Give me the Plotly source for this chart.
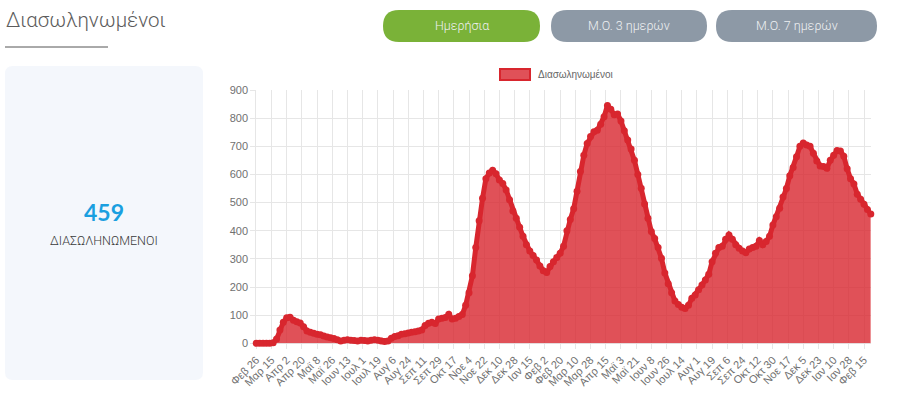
import pandas as pd
import plotly.graph_objects as go

# ---------------- data ----------------
start_date = "2020-02-26"
step_days = 4
intubated = [
    0, 0, 0, 0, 0, 2, 15, 47, 75, 91, 93, 82, 77, 72, 59, 44, 39, 36, 32, 30,
    26, 22, 20, 17, 13, 8, 11, 13, 11, 10, 8, 11, 10, 8, 11, 13, 11, 8, 6, 8,
    18, 24, 27, 32, 34, 37, 39, 41, 44, 47, 63, 71, 75, 70, 86, 89, 92, 103, 86, 89,
    95, 102, 135, 180, 240, 340, 435, 515, 585, 605, 615, 602, 580, 568, 545, 510, 470, 444, 412, 380,
    350, 328, 312, 296, 275, 258, 252, 273, 290, 305, 320, 345, 400, 440, 478, 540, 610, 668, 710, 735,
    752, 757, 778, 805, 845, 832, 812, 815, 790, 755, 722, 690, 650, 600, 551, 495, 444, 397, 372, 340,
    302, 250, 212, 180, 150, 138, 128, 124, 135, 160, 172, 190, 207, 225, 245, 290, 320, 340, 345, 370,
    385, 370, 350, 338, 328, 322, 335, 340, 345, 365, 350, 362, 380, 420, 450, 480, 520, 550, 595, 625,
    663, 700, 712, 705, 700, 675, 648, 630, 628, 622, 650, 668, 685, 683, 665, 620, 585, 566, 530, 512,
    494, 475, 459,
]
tick_step_days = 18
tick_labels = [
    "Φεβ 26", "Μαρ 15", "Απρ 2", "Απρ 20", "Μαϊ 8", "Μαϊ 26", "Ιουν 13", "Ιουλ 1",
    "Ιουλ 19", "Αυγ 6", "Αυγ 24", "Σεπ 11", "Σεπ 29", "Οκτ 17", "Νοε 4", "Νοε 22",
    "Δεκ 10", "Δεκ 28", "Ιαν 15", "Φεβ 2", "Φεβ 20", "Μαρ 10", "Μαρ 28", "Απρ 15",
    "Μαϊ 3", "Μαϊ 21", "Ιουν 8", "Ιουν 26", "Ιουλ 14", "Αυγ 1", "Αυγ 19", "Σεπ 6",
    "Σεπ 24", "Οκτ 12", "Οκτ 30", "Νοε 17", "Δεκ 5", "Δεκ 23", "Ιαν 10", "Ιαν 28",
    "Φεβ 15",
]
series_name = "Διασωληνωμένοι"
page_title = "Διασωληνωμένοι"
buttons = ["Ημερήσια", "Μ.Ο. 3 ημερών", "Μ.Ο. 7 ημερών"]
kpi_value = "459"
kpi_label = "ΔΙΑΣΩΛΗΝΩΜΕΝΟΙ"

dates = pd.date_range(start_date, periods=len(intubated), freq=f"{step_days}D")
tick_dates = pd.date_range(start_date, periods=len(tick_labels), freq=f"{tick_step_days}D")

# ---------------- layout helpers ----------------
W, H = 900, 401


def px(x):
    return x / W


def py(y):
    return (H - y) / H


def rrect(x0, y0, x1, y1, r):
    X0, X1 = px(x0), px(x1)
    Y0, Y1 = py(y0), py(y1)
    rx, ry = r / W, r / H
    return (f"M {X0+rx},{Y0} L {X1-rx},{Y0} Q {X1},{Y0} {X1},{Y0-ry} "
            f"L {X1},{Y1+ry} Q {X1},{Y1} {X1-rx},{Y1} L {X0+rx},{Y1} "
            f"Q {X0},{Y1} {X0},{Y1+ry} L {X0},{Y0-ry} Q {X0},{Y0} {X0+rx},{Y0} Z")


LINE = "#d8262e"
FILL = "rgba(216,38,46,0.80)"

fig = go.Figure()
fig.add_trace(go.Scatter(
    x=dates, y=intubated, name=series_name, mode="lines+markers",
    fill="tozeroy", fillcolor=FILL,
    line=dict(color=LINE, width=5),
    marker=dict(color=LINE, size=7),
    cliponaxis=False, showlegend=False,
))

shapes = []
annotations = []

# title + underline
annotations.append(dict(xref="paper", yref="paper", x=px(4), y=py(20), xanchor="left", yanchor="middle",
                        text=page_title, showarrow=False,
                        font=dict(family="Roboto", size=20.5, color="#5c5c5c", weight=300)))
shapes.append(dict(type="line", xref="paper", yref="paper", x0=px(5), x1=px(108), y0=py(47), y1=py(47),
                   line=dict(color="#555555", width=1)))

# buttons
btn_boxes = [(383, 540, "#7ab238"), (551, 707, "#8d99a6"), (716, 877, "#8d99a6")]
for (x0, x1, col), label in zip(btn_boxes, buttons):
    shapes.append(dict(type="path", xref="paper", yref="paper", path=rrect(x0, 10, x1, 42, 16),
                       fillcolor=col, line=dict(width=0), layer="below"))
    annotations.append(dict(xref="paper", yref="paper", x=px((x0 + x1) / 2), y=py(26),
                            xanchor="center", yanchor="middle", text=label, showarrow=False,
                            font=dict(family="Roboto", size=12.5, color="#eef0f2", weight=300)))

# KPI card
shapes.append(dict(type="path", xref="paper", yref="paper", path=rrect(5, 66, 203, 380, 8),
                   fillcolor="#f4f7fc", line=dict(width=0), layer="below"))
annotations.append(dict(xref="paper", yref="paper", x=px(104), y=py(212), xanchor="center", yanchor="middle",
                        text=f"<b>{kpi_value}</b>", showarrow=False,
                        font=dict(family="Lato", size=23, color="#1a9fe0", weight=900)))
annotations.append(dict(xref="paper", yref="paper", x=px(104), y=py(240), xanchor="center", yanchor="middle",
                        text=kpi_label, showarrow=False,
                        font=dict(family="Roboto", size=12.5, color="#3a3a3a", weight=300)))

# legend (Chart.js style)
shapes.append(dict(type="rect", xref="paper", yref="paper", x0=px(500), x1=px(530), y0=py(80), y1=py(69),
                   fillcolor=FILL, line=dict(color=LINE, width=2)))
annotations.append(dict(xref="paper", yref="paper", x=px(536), y=py(74.5), xanchor="left", yanchor="middle",
                        text=series_name, showarrow=False,
                        font=dict(family="Liberation Sans", size=10, color="#666666")))

GRID = "#e6e6e6"
fig.update_layout(
    width=W, height=H, margin=dict(l=0, r=0, t=0, b=0, pad=0, autoexpand=False),
    paper_bgcolor="#ffffff", plot_bgcolor="#ffffff",
    shapes=shapes, annotations=annotations, showlegend=False,
    xaxis=dict(
        domain=[px(256.3), px(870.8)], automargin=False, layer="below traces",
        range=[dates[0], dates[-1]],
        tickmode="array", tickvals=tick_dates, ticktext=tick_labels,
        tickangle=-45, showgrid=True, gridcolor=GRID, gridwidth=1,
        ticks="outside", ticklen=5, tickcolor=GRID,
        showline=True, linecolor=GRID, zeroline=False,
        tickfont=dict(family="Liberation Sans", size=11, color="#707070"),
    ),
    yaxis=dict(
        domain=[py(343.3), py(90)], automargin=False, layer="below traces",
        range=[0, 900], dtick=100, tick0=0,
        showgrid=True, gridcolor=GRID, gridwidth=1,
        ticks="outside", ticklen=5, tickcolor=GRID,
        showline=True, linecolor=GRID, zeroline=False,
        tickfont=dict(family="Liberation Sans", size=11, color="#707070"),
    ),
)

fig.write_html("out.html")
